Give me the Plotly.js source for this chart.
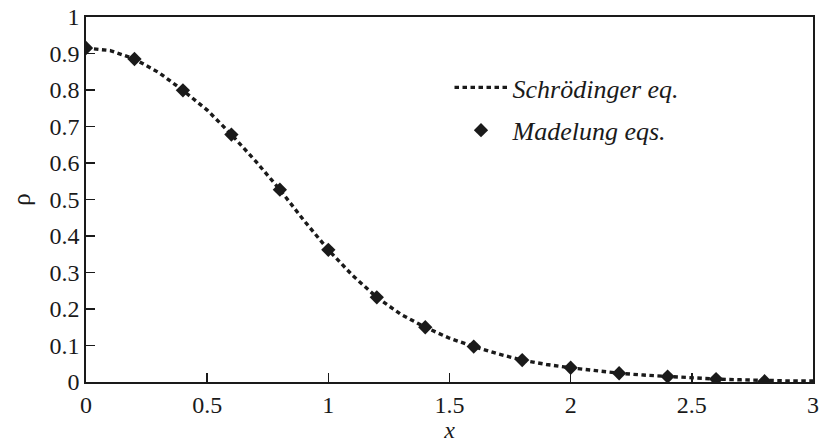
<!DOCTYPE html>
<html>
<head>
<meta charset="utf-8">
<script src="https://cdn.plot.ly/plotly-3.0.1.min.js"></script>
<style>html,body{margin:0;padding:0;background:#fff;}#chart{width:819px;height:443px;}</style>
</head>
<body>
<div id="chart"></div>
<script>
// Schrödinger equation curve
const xLine = [0, 0.1, 0.2, 0.3, 0.4, 0.5, 0.6, 0.7, 0.8, 0.9, 1.0, 1.1, 1.2, 1.3, 1.4, 1.5, 1.6, 1.7, 1.8, 1.9, 2.0, 2.1, 2.2, 2.3, 2.4, 2.5, 2.6, 2.7, 2.8, 2.9, 3.0];
const yLine = [0.915, 0.908, 0.885, 0.848, 0.799, 0.745, 0.678, 0.605, 0.527, 0.442, 0.362, 0.292, 0.232, 0.185, 0.150, 0.120, 0.097, 0.077, 0.060, 0.048, 0.039, 0.031, 0.024, 0.019, 0.015, 0.011, 0.008, 0.006, 0.004, 0.003, 0.003];
// Madelung equations points
const xPts = [0, 0.2, 0.4, 0.6, 0.8, 1.0, 1.2, 1.4, 1.6, 1.8, 2.0, 2.2, 2.4, 2.6, 2.8];
const yPts = [0.915, 0.885, 0.799, 0.678, 0.527, 0.362, 0.232, 0.150, 0.097, 0.060, 0.039, 0.024, 0.015, 0.008, 0.002];
const names = ["Schrödinger eq.", "Madelung eqs."];
const xTicks = [0, 0.5, 1, 1.5, 2, 2.5, 3];
const xTickText = ["0", "0.5", "1", "1.5", "2", "2.5", "3"];
const yTicks = [0, 0.1, 0.2, 0.3, 0.4, 0.5, 0.6, 0.7, 0.8, 0.9, 1];
const yTickText = ["0", "0.1", "0.2", "0.3", "0.4", "0.5", "0.6", "0.7", "0.8", "0.9", "1"];

const font = "Liberation Serif, Times New Roman, serif";
const ink = "#1a1a1a";

const traces = [
  {x: xLine, y: yLine, mode: "lines", name: "<i>" + names[0] + "</i>",
   line: {color: ink, width: 3.4, dash: "4.5px,3.5px"}, legendgroup: "a"},
  {x: xPts, y: yPts, mode: "markers", name: "<i>" + names[1] + "</i>",
   marker: {symbol: "diamond", size: 11, color: ink}, legendgroup: "b"}
];

const axisCommon = {
  showgrid: false, zeroline: false, showline: true, mirror: true,
  linecolor: ink, linewidth: 1.8, ticks: "inside", ticklen: 9, tickwidth: 1.5,
  tickcolor: ink, tickfont: {family: font, size: 24, color: ink},
  ticklabeloverflow: "allow"
};

const layout = {
  width: 819, height: 443,
  margin: {l: 86, r: 6, t: 17, b: 61},
  paper_bgcolor: "#fff", plot_bgcolor: "#fff",
  font: {family: font, size: 24, color: ink},
  xaxis: Object.assign({}, axisCommon, {
    range: [0, 3], tickvals: xTicks, ticktext: xTickText,
    title: {text: "<i>x</i>", font: {family: font, size: 24, color: ink}, standoff: 3}
  }),
  yaxis: Object.assign({}, axisCommon, {
    range: [0, 1], tickvals: yTicks, ticktext: yTickText,
    title: {text: "ρ", font: {family: font, size: 25, color: ink}, standoff: 12}
  }),
  showlegend: true,
  legend: {x: 0.5, y: 0.748, xanchor: "left", yanchor: "middle",
    bgcolor: "rgba(0,0,0,0)", font: {family: font, size: 26, color: ink},
    tracegroupgap: 6, itemwidth: 53, traceorder: "grouped"}
};

Plotly.newPlot("chart", traces, layout, {displayModeBar: false, staticPlot: true});
</script>
</body>
</html>
